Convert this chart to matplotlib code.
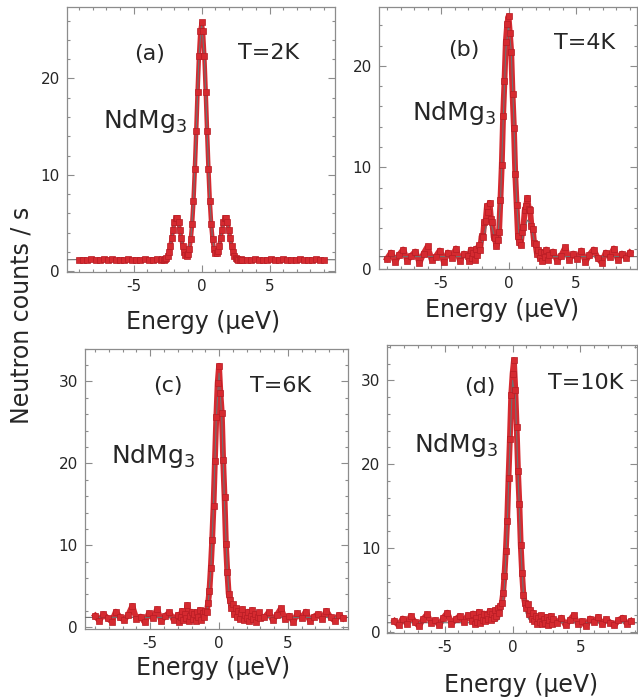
import numpy as np
import matplotlib.pyplot as plt
from matplotlib.ticker import MultipleLocator

plt.rcParams["axes.unicode_minus"] = False

# ---------- Données ----------
nan = np.nan

energy = [-9.0, -8.7, -8.4, -8.1, -7.8, -7.5, -7.2, -6.9, -6.6, -6.3,
          -6.0, -5.7, -5.4, -5.1, -4.8, -4.5, -4.2, -3.9, -3.6, -3.3,
          -3.0, -2.9, -2.8, -2.7, -2.6, -2.5, -2.4, -2.3, -2.2, -2.1,
          -2.0, -1.9, -1.8, -1.7, -1.6, -1.5, -1.4, -1.3, -1.2, -1.1,
          -1.0, -0.9, -0.8, -0.7, -0.6, -0.5, -0.4, -0.3, -0.2, -0.1,
          0.0,
          0.1, 0.2, 0.3, 0.4, 0.5, 0.6, 0.7, 0.8, 0.9, 1.0,
          1.1, 1.2, 1.3, 1.4, 1.5, 1.6, 1.7, 1.8, 1.9, 2.0,
          2.1, 2.2, 2.3, 2.4, 2.5, 2.6, 2.7, 2.8, 2.9, 3.0,
          3.3, 3.6, 3.9, 4.2, 4.5, 4.8, 5.1, 5.4, 5.7, 6.0,
          6.3, 6.6, 6.9, 7.2, 7.5, 7.8, 8.1, 8.4, 8.7, 9.0]

counts_a = [1.18, 1.22, 1.15, 1.25, 1.20, 1.17, 1.23, 1.19, 1.26, 1.14,
            1.21, 1.18, 1.24, 1.16, 1.22, 1.19, 1.25, 1.17, 1.21, 1.23,
            1.20, 1.25, 1.18, 1.24, 1.38, 1.62, 2.02, 2.63, 3.43, 4.31,
            5.08, 5.54, 5.56, 5.08, 4.31, 3.43, 2.63, 2.02, 1.72, 1.62,
            1.80, 2.35, 3.30, 4.90, 7.30, 10.6, 14.5, 18.6, 22.3, 24.9,
            25.8,
            24.9, 22.3, 18.6, 14.5, 10.6, 7.30, 4.90, 3.30, 2.35, 1.91,
            1.85, 2.12, 2.63, 3.43, 4.31, 5.08, 5.54, 5.54, 5.08, 4.31,
            3.43, 2.63, 2.02, 1.62, 1.39, 1.28, 1.22, 1.19, 1.23, 1.18,
            1.21, 1.17, 1.24, 1.19, 1.15, 1.22, 1.26, 1.18, 1.20, 1.23,
            1.16, 1.21, 1.19, 1.25, 1.17, 1.22, 1.18, 1.24, 1.20, 1.16]

counts_b = [1.0, 1.6, 0.7, 1.4, 1.9, 0.8, 1.3, 1.7, 0.6, 1.5,
            2.2, 0.9, 1.2, 1.8, 0.7, 1.6, 1.1, 2.0, 0.8, 1.5,
            1.3, 0.8, 1.9, 1.1, 1.6, 0.9, 2.0, 1.4, 2.3, 1.9,
            3.2, 3.1, 4.6, 4.7, 6.2, 5.6, 6.5, 4.9, 4.6, 3.1,
            3.0, 2.2, 2.8, 3.6, 6.8, 10.2, 15.1, 18.5, 22.4, 24.1,
            24.9,
            23.2, 21.4, 17.2, 13.9, 9.3, 6.3, 3.2, 2.6, 2.3, 3.6,
            4.1, 5.8, 6.2, 7.0, 5.9, 5.8, 4.2, 3.9, 2.5, 2.4,
            1.5, 1.9, 1.1, 1.7, 0.8, 1.6, 1.2, 1.9, 0.9, 1.4,
            1.7, 0.8, 1.3, 2.1, 0.9, 1.5, 1.0, 1.8, 0.7, 1.4,
            1.9, 1.1, 0.6, 1.6, 1.2, 2.0, 0.9, 1.5, 1.1, 1.6]

counts_c = [1.4, 0.8, 1.6, 1.1, 0.7, 1.9, 1.2, 0.9, 1.5, 2.6,
            1.0, 1.3, 0.6, 1.7, 1.1, 2.2, 0.8, 1.4, 1.8, 0.9,
            1.5, 0.7, 1.3, 2.0, 0.9, 1.6, 1.1, 2.7, 0.8, 1.4,
            1.9, 1.0, 1.6, 0.8, 1.8, 1.2, 2.1, 0.9, 1.7, 1.3,
            2.0, 1.8, 2.9, 4.4, 7.2, 10.6, 14.8, 20.3, 25.6, 29.8,
            31.9,
            28.6, 26.2, 20.4, 15.9, 10.2, 6.8, 4.1, 3.3, 2.4, 2.8,
            1.6, 2.3, 1.2, 2.0, 1.0, 1.7, 2.2, 0.9, 1.5, 1.1,
            1.9, 0.8, 1.4, 2.1, 1.0, 1.6, 0.7, 1.3, 1.8, 1.1,
            1.2, 1.8, 0.9, 1.5, 2.3, 1.0, 1.4, 0.7, 1.7, 1.1,
            1.9, 0.8, 1.3, 1.6, 1.0, 2.0, 1.2, 0.8, 1.5, 1.1]

counts_d = [nan, 1.3, 0.8, 1.6, 1.0, 1.9, 1.2, 0.7, 1.5, 2.1,
            1.1, 1.4, 0.8, 1.7, 2.3, 1.0, 1.5, 1.9, 1.2, 2.0,
            1.3, 2.2, 1.0, 1.7, 1.2, 2.4, 1.1, 1.8, 1.4, 2.2,
            1.3, 2.0, 1.5, 2.5, 1.4, 2.1, 1.7, 2.6, 1.9, 2.8,
            2.3, 3.1, 3.4, 4.6, 6.7, 9.6, 13.2, 18.4, 23.0, 28.3,
            30.8,
            32.4, 28.9, 24.4, 19.2, 15.3, 10.4, 7.0, 4.4, 3.5, 2.9,
            3.3, 2.2, 2.6, 1.6, 2.3, 1.3, 1.9, 1.0, 1.7, 1.2,
            2.0, 0.9, 1.5, 1.1, 1.8, 0.8, 1.4, 1.9, 1.0, 1.5,
            1.1, 1.7, 0.8, 1.4, 2.0, 1.0, 1.3, 0.7, 1.6, 1.2,
            1.8, 0.9, 1.5, 1.1, 0.8, 1.4, 1.7, 1.0, 1.3, nan]

# courbes ajustées
fit_energy = [-10.0, -2.6, -2.4, -2.2, -2.0, -1.8, -1.6, -1.4, -1.2, -1.0,
              -0.8, -0.6, -0.4, -0.2, 0.0, 0.2, 0.4, 0.6, 0.8, 1.0,
              1.2, 1.4, 1.6, 1.8, 2.0, 2.2, 2.4, 2.6, 10.0]

fit_a = [1.2, 1.35, 2.0, 3.4, 5.0, 5.5, 4.3, 2.6, 1.7, 1.8,
         3.3, 7.3, 14.5, 22.3, 25.6, 22.3, 14.5, 7.3, 3.3, 1.9,
         2.1, 3.4, 5.0, 5.5, 4.3, 2.6, 1.6, 1.3, 1.2]
fit_b = [1.2, 1.2, 1.3, 1.6, 2.3, 3.4, 4.5, 4.8, 4.0, 2.9,
         3.0, 6.5, 14.5, 21.5, 24.0, 21.5, 14.5, 6.5, 3.0, 2.9,
         4.0, 4.8, 4.5, 3.4, 2.3, 1.6, 1.3, 1.2, 1.2]
fit_c = [1.2, 1.2, 1.2, 1.2, 1.2, 1.2, 1.2, 1.2, 1.2, 1.3,
         2.6, 7.0, 15.0, 25.5, 31.0, 25.5, 15.0, 7.0, 2.6, 1.3,
         1.2, 1.2, 1.2, 1.2, 1.2, 1.2, 1.2, 1.2, 1.2]
fit_d = [1.1, 1.1, 1.1, 1.1, 1.1, 1.1, 1.15, 1.2, 1.3, 1.5,
         2.4, 5.5, 12.5, 22.0, 30.0, 28.0, 19.0, 10.0, 4.5, 2.2,
         1.5, 1.3, 1.2, 1.15, 1.1, 1.1, 1.1, 1.1, 1.1]

panel_tags = ["(a)", "(b)", "(c)", "(d)"]
temperatures = ["T=2K", "T=4K", "T=6K", "T=10K"]
series = [counts_a, counts_b, counts_c, counts_d]
fits = [fit_a, fit_b, fit_c, fit_d]

# ---------- Mise en page ----------
# [left, bottom, width, height], xlim, ylim, épaisseur de bande, positions des textes
panels = [
    dict(rect=[0.105, 0.611, 0.420, 0.379], xlim=(-9.9, 9.8), ylim=(-0.1, 27.4), lw=3.2,
         tag=(0.31, 0.823), temp=(0.754, 0.828), mat=(0.134, 0.543), xl=(0.507, -0.189)),
    dict(rect=[0.594, 0.616, 0.404, 0.374], xlim=(-9.6, 9.5), ylim=(0.0, 25.8), lw=4.2,
         tag=(0.33, 0.836), temp=(0.797, 0.861), mat=(0.128, 0.569), xl=(0.477, -0.156)),
    dict(rect=[0.133, 0.101, 0.412, 0.401], xlim=(-9.75, 9.35), ylim=(-0.25, 34.0), lw=4.2,
         tag=(0.317, 0.865), temp=(0.745, 0.868), mat=(0.098, 0.591), xl=(0.487, -0.139)),
    dict(rect=[0.607, 0.096, 0.392, 0.411], xlim=(-9.23, 9.19), ylim=(-0.1, 34.2), lw=4.2,
         tag=(0.372, 0.854), temp=(0.792, 0.868), mat=(0.108, 0.628), xl=(0.536, -0.181)),
]

RED = "#d52a30"
RED_EDGE = "#b81c24"
FRAME = "#8c8c8c"
TEXT = "#262626"
TICK_FONT = ["Liberation Sans Narrow", "DejaVu Sans"]

fig = plt.figure(figsize=(6.38, 7.00), dpi=100)

for i, p in enumerate(panels):
    ax = fig.add_axes(p["rect"])
    # bande de points (ligne épaisse + marqueurs carrés)
    ax.plot(energy, series[i], "-", color=RED, lw=p["lw"], zorder=2,
            solid_joinstyle="round")
    ax.plot(fit_energy, fits[i], color="#707070", lw=0.8, zorder=3)
    ax.plot(energy, series[i], "s", ms=5, mfc=RED, mec=RED_EDGE,
            mew=0.5, zorder=4)

    ax.set_xlim(*p["xlim"])
    ax.set_ylim(*p["ylim"])
    ax.xaxis.set_major_locator(MultipleLocator(5))
    ax.xaxis.set_minor_locator(MultipleLocator(1))
    ax.yaxis.set_major_locator(MultipleLocator(10))
    ax.yaxis.set_minor_locator(MultipleLocator(2))
    ax.tick_params(which="both", direction="in", top=True, right=True,
                   color=FRAME, width=0.8, labelcolor=TEXT, labelsize=11)
    ax.tick_params(which="major", length=5, pad=5)
    ax.tick_params(which="minor", length=2.5)
    for lab in ax.get_xticklabels() + ax.get_yticklabels():
        lab.set_family(TICK_FONT)
    for s in ax.spines.values():
        s.set_color(FRAME)
        s.set_linewidth(0.9)

    ax.text(*p["tag"], panel_tags[i], transform=ax.transAxes, fontsize=16,
            color=TEXT, ha="center", va="center")
    ax.text(*p["temp"], temperatures[i], transform=ax.transAxes, fontsize=16,
            color=TEXT, ha="center", va="center")
    ax.text(*p["mat"], r"NdMg$_3$", transform=ax.transAxes, fontsize=18,
            color=TEXT, ha="left", va="baseline")
    ax.text(*p["xl"], "Energy (\u03bceV)", transform=ax.transAxes, fontsize=17,
            color=TEXT, ha="center", va="center")

fig.text(0.034, 0.549, "Neutron counts / s", rotation=90, fontsize=17,
         color=TEXT, ha="center", va="center")

fig.savefig("out.png", dpi=100)
